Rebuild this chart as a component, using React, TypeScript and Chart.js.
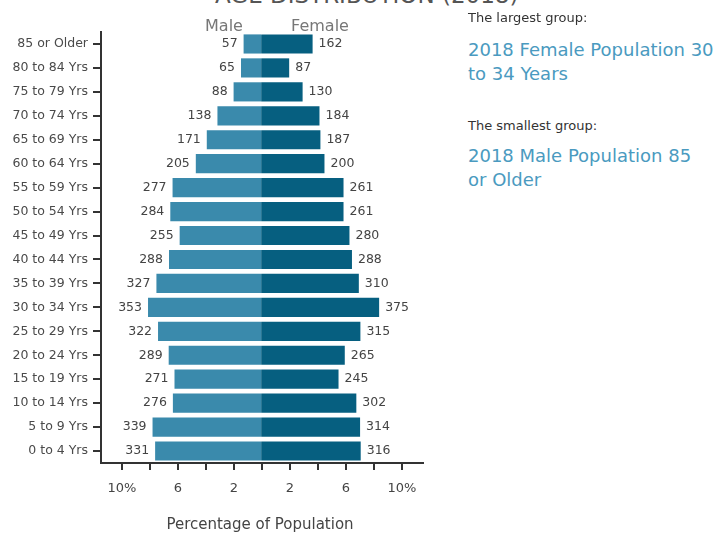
import React, { useEffect, useRef } from "react";
import { Chart, registerables } from "chart.js";

Chart.register(...registerables);

const ageGroups = [
  "85 or Older", "80 to 84 Yrs", "75 to 79 Yrs", "70 to 74 Yrs", "65 to 69 Yrs",
  "60 to 64 Yrs", "55 to 59 Yrs", "50 to 54 Yrs", "45 to 49 Yrs", "40 to 44 Yrs",
  "35 to 39 Yrs", "30 to 34 Yrs", "25 to 29 Yrs", "20 to 24 Yrs", "15 to 19 Yrs",
  "10 to 14 Yrs", "5 to 9 Yrs", "0 to 4 Yrs",
];
const maleCounts = [57, 65, 88, 138, 171, 205, 277, 284, 255, 288, 327, 353, 322, 289, 271, 276, 339, 331];
const femaleCounts = [162, 87, 130, 184, 187, 200, 261, 261, 280, 288, 310, 375, 315, 265, 245, 302, 314, 316];
const xTickValues = [-10, -8, -6, -4, -2, 0, 2, 4, 6, 8, 10];
const xTickLabels: Record<string, string> = { "-10": "10%", "-6": "6", "-2": "2", "2": "2", "6": "6", "10": "10%" };

const FONT = "'DejaVu Sans', sans-serif";

const labelPlugin = {
  id: "barCounts",
  afterDatasetsDraw(chart: any) {
    const ctx = chart.ctx;
    ctx.save();
    ctx.font = `12.5px ${FONT}`;
    ctx.fillStyle = "#444";
    ctx.textBaseline = "middle";
    const sets = [maleCounts, femaleCounts];
    sets.forEach((counts, di) => {
      const meta = chart.getDatasetMeta(di);
      meta.data.forEach((el: any, i: number) => {
        if (di === 0) {
          ctx.textAlign = "right";
          ctx.fillText(String(counts[i]), el.x - 6, el.y);
        } else {
          ctx.textAlign = "left";
          ctx.fillText(String(counts[i]), el.x + 6, el.y);
        }
      });
    });
    ctx.restore();
  },
};

function App() {
  const ref = useRef<HTMLCanvasElement | null>(null);
  useEffect(() => {
    if (!ref.current) return;
    const maleTotal = maleCounts.reduce((a, b) => a + b, 0);
    const femaleTotal = femaleCounts.reduce((a, b) => a + b, 0);
    const chart = new Chart(ref.current, {
      type: "bar",
      data: {
        labels: ageGroups,
        datasets: [
          {
            label: "Male",
            data: maleCounts.map((v) => (-v / maleTotal) * 100),
            backgroundColor: "#3a8aac",
            borderWidth: 0,
            categoryPercentage: 0.8,
            barPercentage: 1,
          },
          {
            label: "Female",
            data: femaleCounts.map((v) => (v / femaleTotal) * 100),
            backgroundColor: "#065f80",
            borderWidth: 0,
            base: -0.06,
            categoryPercentage: 0.8,
            barPercentage: 1,
          },
        ],
      },
      options: {
        indexAxis: "y",
        responsive: false,
        animation: false,
        layout: { padding: { top: 32, right: 17, left: 0, bottom: 0 } },
        plugins: { legend: { display: false }, tooltip: { enabled: false } },
        scales: {
          x: {
            type: "linear",
            stacked: true,
            min: -11.5,
            max: 11.5,
            afterBuildTicks: (scale: any) => {
              scale.ticks = xTickValues.map((v) => ({ value: v }));
            },
            afterFit: (scale: any) => {
              scale.height = 72;
            },
            ticks: {
              autoSkip: false,
              maxRotation: 0,
              padding: 11,
              color: "#444",
              font: { family: FONT, size: 13 },
              callback: (v: any) => xTickLabels[String(v)] ?? "",
            },
            grid: { drawOnChartArea: false, drawTicks: true, tickLength: 7, color: "#333", lineWidth: 2 },
            border: { display: true, color: "#333", width: 2 },
          },
          y: {
            stacked: true,
            afterFit: (scale: any) => {
              scale.width = 101;
            },
            ticks: {
              autoSkip: false,
              padding: 5,
              color: "#4a4a4a",
              font: { family: FONT, size: 12.5 },
            },
            grid: { offset: false, drawOnChartArea: false, drawTicks: true, tickLength: 8, color: "#333", lineWidth: 2 },
            border: { display: true, color: "#333", width: 2 },
          },
        },
      },
      plugins: [labelPlugin],
    } as any);
    return () => chart.destroy();
  }, []);

  const abs = (s: React.CSSProperties): React.CSSProperties => ({ position: "absolute", whiteSpace: "nowrap", fontFamily: FONT, ...s });

  return (
    <div style={{ position: "fixed", left: 0, top: 0, width: 728, height: 535, background: "#fff", overflow: "hidden" }}>
      <div style={abs({ left: 215, top: -16, fontSize: 23, lineHeight: "23px", color: "#555" })}>AGE DISTRIBUTION (2018)</div>
      <canvas ref={ref} width={440} height={535} style={{ position: "absolute", left: 0, top: 0 }} />
      <div style={abs({ left: 224, top: 25, transform: "translate(-50%,-50%)", fontSize: 16, color: "#777" })}>Male</div>
      <div style={abs({ left: 320, top: 25, transform: "translate(-50%,-50%)", fontSize: 16, color: "#777" })}>Female</div>
      <div style={abs({ left: 260, top: 524, transform: "translate(-50%,-50%)", fontSize: 15, color: "#444" })}>Percentage of Population</div>
      <div style={abs({ left: 468, top: 10, fontSize: 13, lineHeight: "16px", color: "#333" })}>The largest group:</div>
      <div style={abs({ left: 468, top: 38, fontSize: 18, lineHeight: "24px", color: "#4a9ac0" })}>2018 Female Population 30<br />to 34 Years</div>
      <div style={abs({ left: 468, top: 118, fontSize: 13, lineHeight: "16px", color: "#333" })}>The smallest group:</div>
      <div style={abs({ left: 468, top: 144, fontSize: 18, lineHeight: "24px", color: "#4a9ac0" })}>2018 Male Population 85<br />or Older</div>
    </div>
  );
}

export default App;
